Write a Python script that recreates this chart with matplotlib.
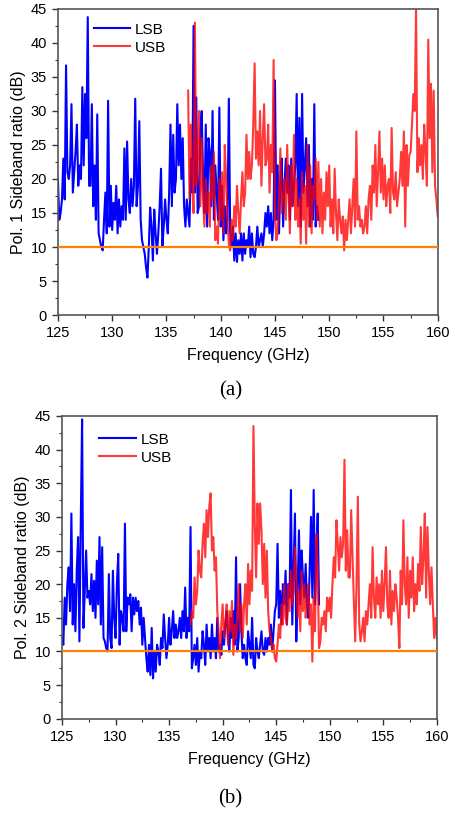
import numpy as np
import matplotlib.pyplot as plt

# Pol. 1 (a) - sideband ratio in dB, 0.125 GHz steps
lsb1 = [20, 14, 15, 17, 23, 17, 36.7, 21,
        20, 22, 31, 18, 21, 24, 28, 19,
        22, 20, 33.5, 22, 32.5, 26, 43.8, 19,
        19, 31, 16, 22, 14, 29.5, 12, 11,
        10, 9.5, 14, 18, 12, 31.5, 13, 19,
        12.5, 16.5, 14, 19, 12, 17, 13, 16,
        14, 24.5, 14, 25.5, 17, 15, 20, 16,
        19, 31.8, 16, 19, 28.5, 14, 11, 10,
        9, 7, 5.5, 10, 15.8, 13, 8, 15.5,
        12, 9, 12, 16, 21.5, 10, 13, 17,
        14, 12, 18, 28, 16, 26.5, 18, 20,
        31, 22, 28, 20, 26, 16, 13, 17,
        15, 13, 23, 18, 42.5, 18, 32, 15,
        16, 27, 30, 20, 15, 28, 13, 26,
        24, 16, 30, 14, 22, 18, 14, 30.5,
        13, 19, 11, 16, 12, 14, 31.8, 12,
        10, 13, 8, 12, 7.8, 11, 9, 12,
        8, 12, 9, 11, 10, 13, 8.5, 12,
        9, 8.5, 10, 13, 10, 11, 12, 10,
        12, 15, 13, 16, 12, 15, 11, 14,
        34.5, 14, 22, 12, 20, 23, 13, 19,
        23, 18, 22, 14, 23, 16, 19, 22,
        32.5, 16, 29, 13, 32.5, 18, 22, 26,
        16, 25, 13, 20, 14, 31, 13, 16,
        14]
usb1 = [33, 17, 28, 20, 15, 43, 19, 23,
        30, 16, 26, 17, 13, 20, 15, 18,
        13, 22, 17, 24, 11, 13, 10.5, 20,
        14, 21, 12, 25, 20, 14, 10.5, 9.5,
        14, 11, 16, 13, 19, 15, 12, 17,
        21, 16, 18, 26.5, 20, 24, 20, 22,
        28, 37, 23, 27, 22, 30, 19, 26,
        31, 22, 23, 28, 18, 25, 21, 37.5,
        15, 11, 12, 18, 24.5, 15, 17, 20,
        14, 25, 18, 12, 22, 16, 26.5, 14,
        20, 13, 17, 10.5, 21, 14, 19, 10.5,
        25, 13, 22, 12, 19, 17, 23, 14,
        22.5, 13, 20, 12, 18, 14, 21, 16,
        22, 13, 17, 12, 21.5, 15, 11, 17,
        14, 12, 14.5, 9.5, 14, 11, 14, 17,
        12, 16, 20, 13, 27, 14, 16, 13,
        14, 12, 13, 16, 12, 17, 19, 14,
        22, 18, 25, 16, 21, 27, 18, 23,
        17, 22, 16, 19, 20, 15, 27.5, 18,
        17, 21, 16, 18, 20, 24, 19, 27,
        13, 25, 19, 23.5, 24, 28, 32.5, 30,
        45, 21, 26, 22, 25, 20, 28, 24,
        19, 40.5, 26, 34, 21, 33, 19, 17,
        14.5]

# Pol. 2 (b)
lsb2 = [12, 11, 18, 14, 20, 22.5, 16, 30.5,
        14, 20, 13, 22, 27, 11.5, 29, 44.5,
        13.5, 19, 25, 18, 19, 17, 21.5, 16,
        20.5, 15, 23.5, 17, 27, 14, 25.5, 12,
        11.5, 10.5, 10, 21.5, 12, 10.5, 22, 15,
        12, 20, 24.5, 11, 16, 15, 13, 29,
        13, 18, 17, 18.5, 13, 18, 15.5, 18,
        16, 17.5, 14, 16.5, 11, 15, 12, 9,
        7, 11, 6.5, 13.5, 6, 10, 7, 11,
        10, 8, 12, 10.5, 15.5, 12, 9, 11,
        15, 11, 13, 16, 12, 14, 12, 13,
        15, 12, 16, 13, 19.5, 12, 15, 13,
        28.5, 7.5, 9, 11, 8, 12, 7, 10,
        9, 13, 11, 8, 14, 10, 12, 9,
        14, 10, 12, 9, 15, 10, 11, 9.5,
        13, 11, 14, 16, 12, 10, 15, 12,
        16, 11, 24, 10, 12, 20, 13, 9,
        11, 9, 8, 13, 11, 9, 15, 8,
        7.5, 12, 10, 9, 11, 13, 10, 9.5,
        12, 10, 12, 11, 14, 10, 13, 16,
        17, 26, 15, 19, 14, 20, 17, 22,
        14, 20, 18, 34, 14, 22, 30.5, 11.5,
        19, 28, 17, 25, 21, 18, 23, 17,
        15, 22, 30, 18, 34, 17, 25, 30.5,
        17]
usb2 = [14, 16, 15, 21, 17, 19, 25, 22,
        21, 26, 29, 24, 31, 27, 31.5, 33.5,
        25, 27, 22, 24, 16, 13, 9, 14,
        17, 12, 14, 17, 11, 16, 13, 17.5,
        9.5, 14, 12, 16, 20, 13, 17, 12,
        17, 20, 14, 23, 17, 22, 19, 43.5,
        29, 21, 32, 26, 32, 28, 20, 26,
        18, 25, 16, 13, 12, 10, 11, 9,
        8.5, 11, 14, 12, 17, 14, 20, 15,
        14, 20, 16, 22, 17, 19, 25.5, 21,
        15, 19, 13, 22, 16, 20, 15, 17,
        20, 14, 17, 8.5, 18, 13, 27.5, 22,
        10.5, 11.5, 15, 14, 16, 13, 18, 16,
        18, 15, 20, 24, 21, 29.5, 26, 22,
        27, 24, 26, 38.5, 22, 28, 21, 21,
        31, 24, 17.5, 11.5, 20, 33, 14, 11.5,
        13, 15, 11.5, 16, 14, 17, 20, 15,
        25.5, 18, 15, 21, 17, 20, 15, 22,
        16, 20, 25.5, 17, 15, 22, 14, 19,
        16, 20, 18, 15, 10.5, 22, 17, 29.5,
        20, 17, 24, 15, 22, 18, 24, 16,
        20, 17, 23, 19, 28.5, 20, 24, 30.5,
        18, 28.5, 22, 17, 22.5, 17, 12, 15,
        12]

lsb_range = (125, 149)
usb_range = (137, 160)
threshold = 10

plt.rcParams['font.family'] = ['Liberation Sans', 'DejaVu Sans']

fig = plt.figure(figsize=(4.56, 8.14), dpi=100)
ax1 = fig.add_axes([0.127, 0.613, 0.833, 0.376])
ax2 = fig.add_axes([0.136, 0.117, 0.822, 0.372])

# (axes, lsb, usb, ylabel, tag, tag y, legend anchor)
panels = [(ax1, lsb1, usb1, 'Pol. 1 Sideband ratio (dB)', '(a)', 0.520, (0.07, 0.985)),
          (ax2, lsb2, usb2, 'Pol. 2 Sideband ratio (dB)', '(b)', 0.019, (0.075, 0.975))]

for ax, lsb, usb, ylab, tag, ty, anchor in panels:
    f_l = np.linspace(lsb_range[0], lsb_range[1], len(lsb))
    f_u = np.linspace(usb_range[0], usb_range[1], len(usb))
    ax.plot(f_l, lsb, color='#0000ff', lw=1.5, label='LSB')
    ax.plot(f_u, usb, color='#ff0000', alpha=0.78, lw=1.5, label='USB')
    ax.axhline(threshold, color='#ff8000', lw=1.6, zorder=5)
    ax.set_xlim(125, 160)
    ax.set_ylim(0, 45)
    ax.set_xticks(np.arange(125, 161, 5))
    ax.set_yticks(np.arange(0, 46, 5))
    ax.set_xticks(np.arange(127.5, 160, 5), minor=True)
    ax.set_yticks(np.arange(2.5, 45, 5), minor=True)
    ax.tick_params(which='both', direction='out', top=False, right=False,
                   labelsize=10.5, color='#333333')
    ax.tick_params(which='major', length=4.5, width=1)
    ax.tick_params(which='minor', length=2.5, width=0.8)
    for s in ax.spines.values():
        s.set_color('#555555')
        s.set_linewidth(1.2)
    ax.set_xlabel('Frequency (GHz)', fontsize=11.5, labelpad=6)
    ax.set_ylabel(ylab, fontsize=11.5, labelpad=3)
    ax.legend(loc='upper left', bbox_to_anchor=anchor, frameon=False,
              fontsize=11, handlelength=2.4, labelspacing=0.25,
              handletextpad=0.3, borderaxespad=0.2)
    fig.text(0.505, ty, tag, ha='center', va='center', fontsize=15,
             family='Liberation Serif')

fig.savefig('out.png', dpi=100)
